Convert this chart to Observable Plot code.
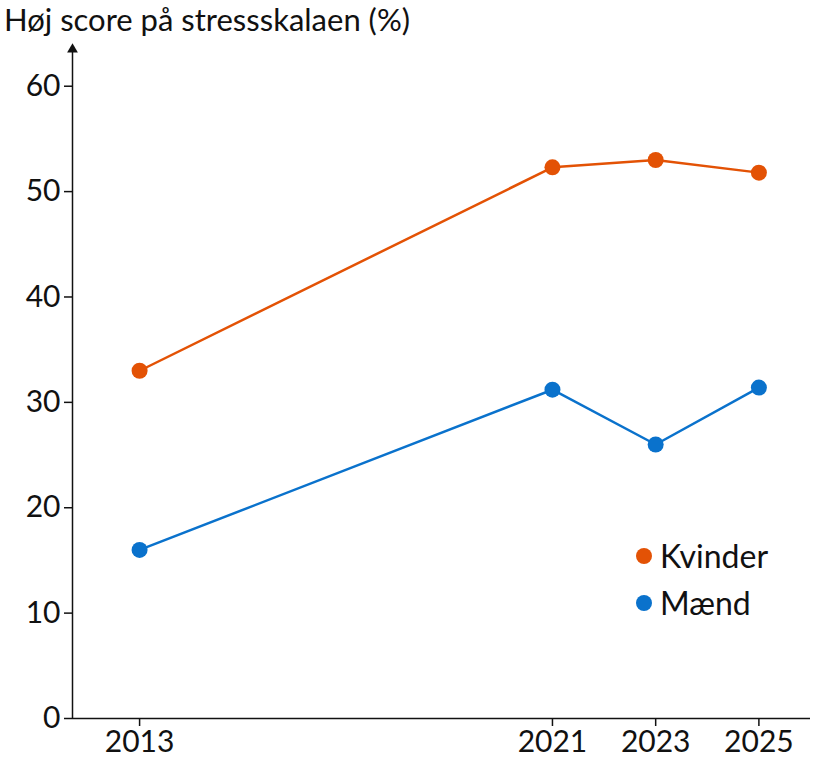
<!DOCTYPE html>
<html><head><meta charset="utf-8">
<script src="https://cdn.jsdelivr.net/npm/d3@7"></script>
<script src="https://cdn.jsdelivr.net/npm/@observablehq/plot@0.6"></script>
<style>
body{margin:0;background:#fff;font-family:Lato,"Open Sans",sans-serif}
#wrap{position:relative;width:822px;height:771px}
#title{position:absolute;left:4px;top:0px;font-size:31px;color:#111}
.leg{position:absolute;left:636px;font-size:32px;color:#111;display:flex;align-items:center}
.leg span{display:inline-block;width:16px;height:16px;border-radius:50%;margin-right:8px}
</style></head><body>
<div id="wrap"><div id="title">Høj score på stressskalaen (%)</div>
<div class="leg" style="top:536px"><span style="background:#e35205"></span>Kvinder</div>
<div class="leg" style="top:583px"><span style="background:#0a72cc"></span>Mænd</div>
</div>
<script>
const years=[2013,2021,2023,2025];
const kvinder=[33,52.3,53,51.8];
const maend=[16,31.2,26,31.4];
const yTicks=[0,10,20,30,40,50,60];
const series=[{name:"Kvinder",vals:kvinder,color:"#e35205"},{name:"Mænd",vals:maend,color:"#0a72cc"}];
const data=series.flatMap(s=>years.map((y,i)=>({year:y,value:s.vals[i],name:s.name,color:s.color})));
const x0=2011.7, x1=2026, yTop=63.2;
const plot=Plot.plot({
 width:822,height:771,marginLeft:72,marginRight:12,marginTop:52,marginBottom:53,
 style:{fontFamily:"Lato, 'Open Sans', sans-serif",fontSize:"30px",color:"#111",background:"transparent"},
 x:{type:"linear",domain:[x0,x1]},y:{type:"linear",domain:[0,yTop]},
 marks:[
  Plot.ruleX([x0],{y1:0,y2:yTop,stroke:"#111",strokeWidth:1.5}),
  Plot.ruleY([0],{x1:x0,x2:x1,stroke:"#111",strokeWidth:1.5}),
  Plot.dot([{x:x0,y:yTop}],{x:"x",y:"y",symbol:"triangle",r:4,fill:"#111",dy:-3}),
  Plot.axisY({ticks:yTicks,tickSize:8,anchor:"left",tickFormat:d=>d,fontSize:30,tickPadding:4,label:null,strokeWidth:1.5}),
  Plot.axisX({ticks:years,tickSize:8,tickFormat:d=>String(d),fontSize:30,tickPadding:4,label:null,strokeWidth:1.5}),
  Plot.line(data,{x:"year",y:"value",z:"name",stroke:"color",strokeWidth:2.5}),
  Plot.dot(data,{x:"year",y:"value",fill:"color",r:8})
 ]
});
plot.style.position="absolute";plot.style.left="0";plot.style.top="0";
document.getElementById("wrap").prepend(plot);
</script></body></html>
